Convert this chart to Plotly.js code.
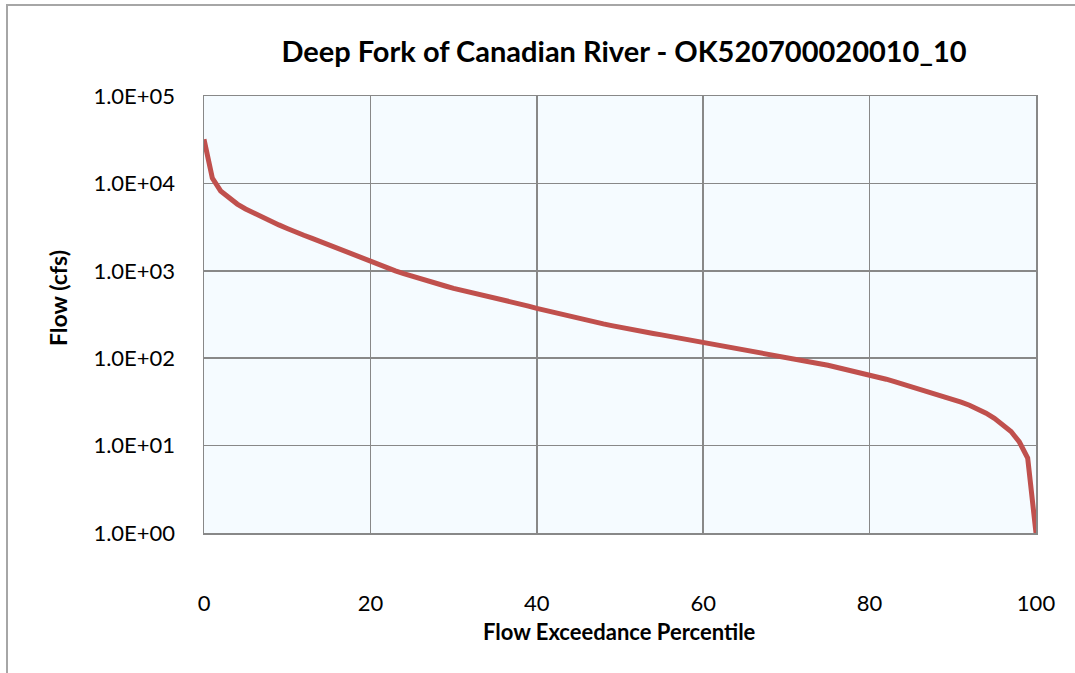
<!DOCTYPE html>
<html>
<head>
<meta charset="utf-8">
<script src="https://cdn.plot.ly/plotly-3.0.1.min.js"></script>
<style>
  html, body { margin: 0; padding: 0; background: #ffffff; }
  #wrap { position: relative; width: 1075px; height: 673px; overflow: hidden; }
  #chart { position: absolute; left: 0; top: 0; width: 1075px; height: 673px; }
  #frame { position: absolute; left: 6px; top: 4px; width: 1080px; height: 700px;
           border-left: 2px solid #a6a6a6; border-top: 2px solid #a6a6a6; pointer-events: none; }
</style>
</head>
<body>
<div id="wrap">
  <div id="chart"></div>
  <div id="frame"></div>
</div>
<script>
// Flow exceedance percentile (x) and flow in cfs (y)
const percentile = [
  0, 1, 2, 3, 4, 5, 6, 7, 8, 9,
  10, 11, 12, 13, 14, 15, 16, 17, 18, 19,
  20, 21, 22, 23, 24, 25, 26, 27, 28, 29,
  30, 31, 32, 33, 34, 35, 36, 37, 38, 39,
  40, 41, 42, 43, 44, 45, 46, 47, 48, 49,
  50, 51, 52, 53, 54, 55, 56, 57, 58, 59,
  60, 61, 62, 63, 64, 65, 66, 67, 68, 69,
  70, 71, 72, 73, 74, 75, 76, 77, 78, 79,
  80, 81, 82, 83, 84, 85, 86, 87, 88, 89,
  90, 91, 92, 93, 94, 95, 96, 97, 98, 99,
  100
];
const flowCfs = [
  32000, 11500, 8200, 6800, 5800, 5100, 4550, 4100, 3700, 3350,
  3050, 2750, 2550, 2350, 2150, 1980, 1820, 1670, 1530, 1400,
  1280, 1170, 1080, 1000, 930, 865, 805, 755, 710, 670,
  630, 600, 570, 540, 515, 490, 465, 440, 415, 395,
  372, 352, 333, 316, 300, 286, 272, 259, 247, 236,
  225, 216, 207, 199, 192, 185, 178, 171, 165, 159,
  153, 147, 141, 136, 131, 126, 121, 116, 111, 106,
  102, 98, 94, 90, 86.5, 83, 79, 75.5, 72, 68,
  64, 61, 57.5, 54, 50.5, 47, 44.5, 42, 39, 36.5,
  34, 31.5, 29, 26.5, 23.5, 20.5, 17.5, 14.5, 11, 7.2,
  1.0
];
const yTickVals = [1, 10, 100, 1000, 10000, 100000];
const yTickText = ["1.0E+00", "1.0E+01", "1.0E+02", "1.0E+03", "1.0E+04", "1.0E+05"];
const xTickVals = [0, 20, 40, 60, 80, 100];

const chartTitle = "Deep Fork of Canadian River - OK520700020010_10";
const xTitle = "Flow Exceedance Percentile";
const yTitle = "Flow (cfs)";

const FONT = "Lato, 'Open Sans', sans-serif";
const W = 1075, H = 673;
const ML = 204, MR = 39, MT = 96, MB = 140;
const PW = W - ML - MR, PH = H - MT - MB;

const trace = {
  x: percentile,
  y: flowCfs,
  type: "scatter",
  mode: "lines",
  line: { color: "#C0504D", width: 5 },
  hoverinfo: "x+y"
};

const layout = {
  width: W,
  height: H,
  margin: { l: ML, r: MR, t: MT, b: MB, pad: 0 },
  paper_bgcolor: "#ffffff",
  plot_bgcolor: "#F5FBFF",
  showlegend: false,
  font: { family: FONT, color: "#000000", size: 22 },
  title: {
    text: "<b>" + chartTitle + "</b>",
    font: { family: FONT, size: 29, color: "#000000" },
    x: 624 / W, xanchor: "center", xref: "container",
    y: 1 - 52 / H, yanchor: "middle", yref: "container"
  },
  xaxis: {
    range: [0, 100],
    tickvals: xTickVals,
    ticktext: xTickVals.map(String),
    showgrid: true,
    gridcolor: "#888888",
    gridwidth: 1.5,
    zeroline: false,
    showline: true,
    linecolor: "#888888",
    linewidth: 1.5,
    mirror: true,
    ticks: "",
    ticklabelstandoff: 50,
    tickfont: { family: FONT, size: 22, color: "#000000" }
  },
  yaxis: {
    type: "log",
    range: [0, 5],
    tickvals: yTickVals,
    ticktext: yTickText,
    showgrid: true,
    gridcolor: "#888888",
    gridwidth: 1.5,
    zeroline: false,
    showline: true,
    linecolor: "#888888",
    linewidth: 1.5,
    mirror: true,
    ticks: "",
    ticklabelstandoff: 23,
    tickfont: { family: FONT, size: 22, color: "#000000" }
  },
  annotations: [
    {
      text: "<b>" + xTitle + "</b>",
      xref: "paper", yref: "paper",
      x: (619 - ML) / PW, y: (H - MB - 631) / PH,
      xanchor: "center", yanchor: "middle",
      showarrow: false,
      font: { family: FONT, size: 22, color: "#000000" }
    },
    {
      text: "<b>" + yTitle + "</b>",
      xref: "paper", yref: "paper",
      x: (58 - ML) / PW, y: (H - MB - 298) / PH,
      xanchor: "center", yanchor: "middle",
      textangle: -90,
      showarrow: false,
      font: { family: FONT, size: 23, color: "#000000" }
    }
  ]
};

Plotly.newPlot("chart", [trace], layout, { displayModeBar: false, staticPlot: true });
</script>
</body>
</html>
